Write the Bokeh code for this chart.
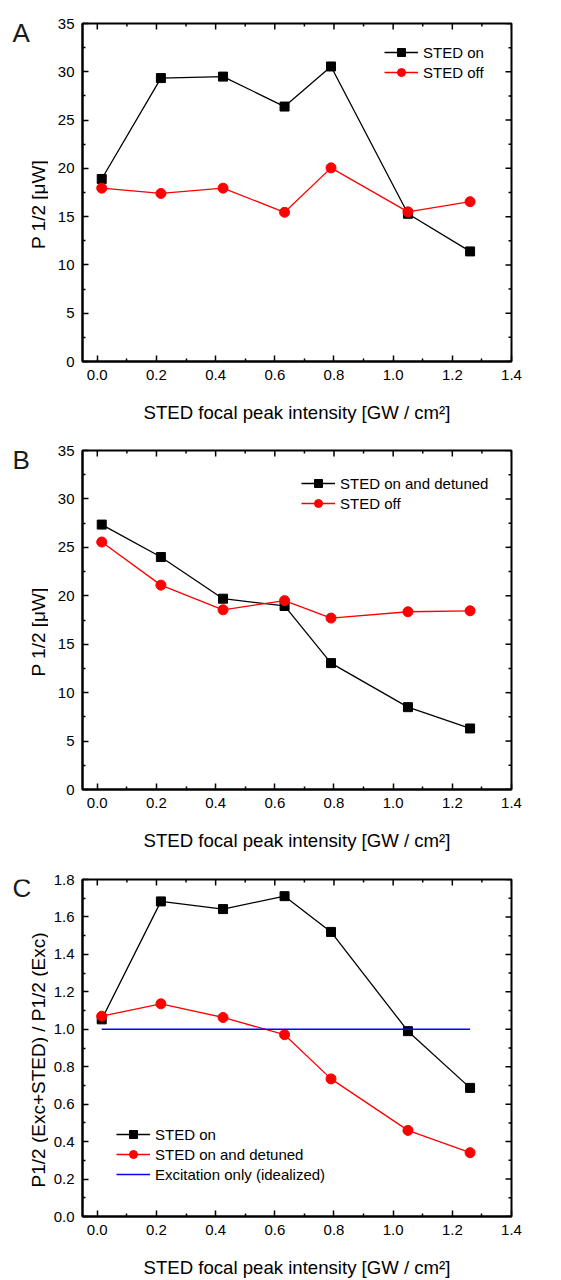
from bokeh.plotting import figure
from bokeh.models import (Range1d, Legend, LegendItem, FixedTicker, NumeralTickFormatter)
from bokeh.core.properties import value
from bokeh.layouts import column, row
from bokeh.embed import file_html
from bokeh.resources import INLINE

# ---------------- data ----------------
intensity = [0.015, 0.215, 0.425, 0.633, 0.79, 1.05, 1.26]

a_sted_on = [18.9, 29.35, 29.5, 26.4, 30.55, 15.3, 11.4]
a_sted_off = [17.95, 17.4, 17.95, 15.45, 20.05, 15.5, 16.55]

b_sted_on_detuned = [27.35, 24.0, 19.7, 18.95, 13.05, 8.5, 6.3]
b_sted_off = [25.55, 21.1, 18.55, 19.5, 17.7, 18.35, 18.45]

c_sted_on = [1.053, 1.683, 1.642, 1.711, 1.52, 0.99, 0.687]
c_sted_on_detuned = [1.07, 1.136, 1.063, 0.971, 0.735, 0.46, 0.341]
c_excitation_x = [0.015, 1.26]
c_excitation = [1.0, 1.0]

x_ticks = [0.0, 0.2, 0.4, 0.6, 0.8, 1.0, 1.2, 1.4]
x_minor = [0.1, 0.3, 0.5, 0.7, 0.9, 1.1, 1.3]
p_ticks = [0, 5, 10, 15, 20, 25, 30, 35]
p_minor = [2.5, 7.5, 12.5, 17.5, 22.5, 27.5, 32.5]
r_ticks = [0.0, 0.2, 0.4, 0.6, 0.8, 1.0, 1.2, 1.4, 1.6, 1.8]
r_minor = [0.1, 0.3, 0.5, 0.7, 0.9, 1.1, 1.3, 1.5, 1.7]

x_title = "STED focal peak intensity [GW / cm\u00b2]"
p_title = "P 1/2 [\u03bcW]"
r_title = "P1/2 (Exc+STED) / P1/2 (Exc)"
FONT = "Liberation Sans"
LEFT_W = 48
W = 561 - LEFT_W
X0, X1 = -0.05, 1.4


def style_axis(ax):
    ax.axis_line_width = 2
    ax.axis_line_color = "black"
    ax.major_tick_in = 6
    ax.major_tick_out = 0
    ax.minor_tick_in = 3
    ax.minor_tick_out = 0
    ax.major_tick_line_width = 1.5
    ax.minor_tick_line_width = 1.5
    ax.major_tick_line_color = "black"
    ax.minor_tick_line_color = "black"
    ax.major_label_text_font = FONT
    ax.major_label_text_color = "black"
    ax.major_label_text_font_size = "15px"
    ax.axis_label_text_font = FONT
    ax.axis_label_text_font_style = "normal"
    ax.axis_label_text_color = "black"
    ax.axis_label_text_font_size = "18.6px"


def left_fig(height, top, bottom, y_end, letter, ytitle):
    """Strip left of the y axis (same vertical frame as the panel):
    the panel letter and the y-axis title."""
    frame_h = height - top - bottom
    px = y_end / frame_h  # data units per pixel
    f = figure(width=LEFT_W, height=height, output_backend="svg",
               toolbar_location=None, x_axis_location=None, y_axis_location=None,
               x_range=Range1d(0, LEFT_W), y_range=Range1d(0, y_end),
               min_border_left=0, min_border_right=0, min_border_top=top,
               min_border_bottom=bottom, background_fill_color="white",
               border_fill_color="white")
    f.title.visible = False
    f.outline_line_color = None
    f.xgrid.visible = False
    f.ygrid.visible = False
    f.text(x=[12], y=[y_end - 9 * px], text=[letter], text_font=value(FONT),
           text_font_size="26px", text_color="#1a1a1a", text_baseline="alphabetic",
           text_align="left", text_line_height=1.0)
    f.text(x=[38], y=[y_end / 2 - 12 * px], text=[ytitle],
           text_font=value(FONT), text_font_size="19px", text_color="black",
           text_baseline="middle", text_align="center", angle=90, angle_units="deg",
           text_line_height=1.0)
    return f


def make_panel(height, top, bottom, y_end, yt, ym, yfmt):
    p = figure(width=W, height=height, output_backend="svg", toolbar_location=None,
               x_range=Range1d(X0, X1), y_range=Range1d(0, y_end),
               min_border_left=82 - LEFT_W, min_border_right=50,
               min_border_top=top, min_border_bottom=bottom,
               background_fill_color="white", border_fill_color="white")
    p.title.visible = False
    p.xgrid.visible = False
    p.ygrid.visible = False
    p.outline_line_color = "black"
    p.outline_line_width = 2

    xa = p.xaxis[0]
    ya = p.yaxis[0]
    xa.ticker = FixedTicker(ticks=x_ticks, minor_ticks=x_minor)
    ya.ticker = FixedTicker(ticks=yt, minor_ticks=ym)
    xa.formatter = NumeralTickFormatter(format="0.0")
    ya.formatter = NumeralTickFormatter(format=yfmt)
    xa.axis_label = x_title
    style_axis(xa)
    style_axis(ya)
    xa.major_label_standoff = 8
    ya.major_label_standoff = 8
    xa.axis_label_standoff = 19

    # mirrored inward ticks on the top and right edges of the frame
    p.ray(x=x_ticks, y=[y_end] * len(x_ticks), length=6, angle=-90,
          angle_units="deg", length_units="screen", line_color="black", line_width=1.5)
    p.ray(x=x_minor, y=[y_end] * len(x_minor), length=3, angle=-90,
          angle_units="deg", length_units="screen", line_color="black", line_width=1.5)
    p.ray(x=[X1] * len(yt), y=yt, length=6, angle=180,
          angle_units="deg", length_units="screen", line_color="black", line_width=1.5)
    p.ray(x=[X1] * len(ym), y=ym, length=3, angle=180,
          angle_units="deg", length_units="screen", line_color="black", line_width=1.5)
    return p


def series(p, y, color, marker):
    l = p.line(intensity, y, line_color=color, line_width=1.3)
    if marker == "square":
        s = p.scatter(intensity, y, marker="square", size=9, fill_color=color,
                      line_color=color)
    else:
        s = p.scatter(intensity, y, marker="circle", size=10, fill_color=color,
                      line_color=color)
    return [l, s]


def add_legend(p, items, x, y):
    lg = Legend(items=items, location=(x, y), border_line_alpha=0,
                background_fill_alpha=0, padding=0, spacing=0, margin=0,
                glyph_width=34, glyph_height=20, label_height=20, label_standoff=5,
                label_text_font=FONT, label_text_font_size="15px",
                label_text_color="black")
    p.add_layout(lg)


# ---------- panel A ----------
pA = make_panel(427, 23, 66, 35, p_ticks, p_minor, "0")
ra1 = series(pA, a_sted_on, "black", "square")
ra2 = series(pA, a_sted_off, "#ff0000", "circle")
add_legend(pA, [LegendItem(label="STED on", renderers=ra1),
                LegendItem(label="STED off", renderers=ra2)], 302, 279)

# ---------- panel B ----------
pB = make_panel(429, 23, 67, 35, p_ticks, p_minor, "0")
rb1 = series(pB, b_sted_on_detuned, "black", "square")
rb2 = series(pB, b_sted_off, "#ff0000", "circle")
add_legend(pB, [LegendItem(label="STED on and detuned", renderers=rb1),
                LegendItem(label="STED off", renderers=rb2)], 219, 276)

# ---------- panel C ----------
pC = make_panel(424, 23, 63, 1.8, r_ticks, r_minor, "0.0")
rc1 = series(pC, c_sted_on, "black", "square")
rc2 = series(pC, c_sted_on_detuned, "#ff0000", "circle")
rc3 = pC.line(c_excitation_x, c_excitation, line_color="#0000ff", line_width=1.5)
add_legend(pC, [LegendItem(label="STED on", renderers=rc1),
                LegendItem(label="STED on and detuned", renderers=rc2),
                LegendItem(label="Excitation only (idealized)", renderers=[rc3])], 34, 32)

layout = column(
    row(left_fig(427, 23, 66, 35, "A", p_title), pA, spacing=0),
    row(left_fig(429, 23, 67, 35, "B", p_title), pB, spacing=0),
    row(left_fig(424, 23, 63, 1.8, "C", r_title), pC, spacing=0),
    spacing=0)
open("out.html", "w").write(file_html(layout, INLINE))
